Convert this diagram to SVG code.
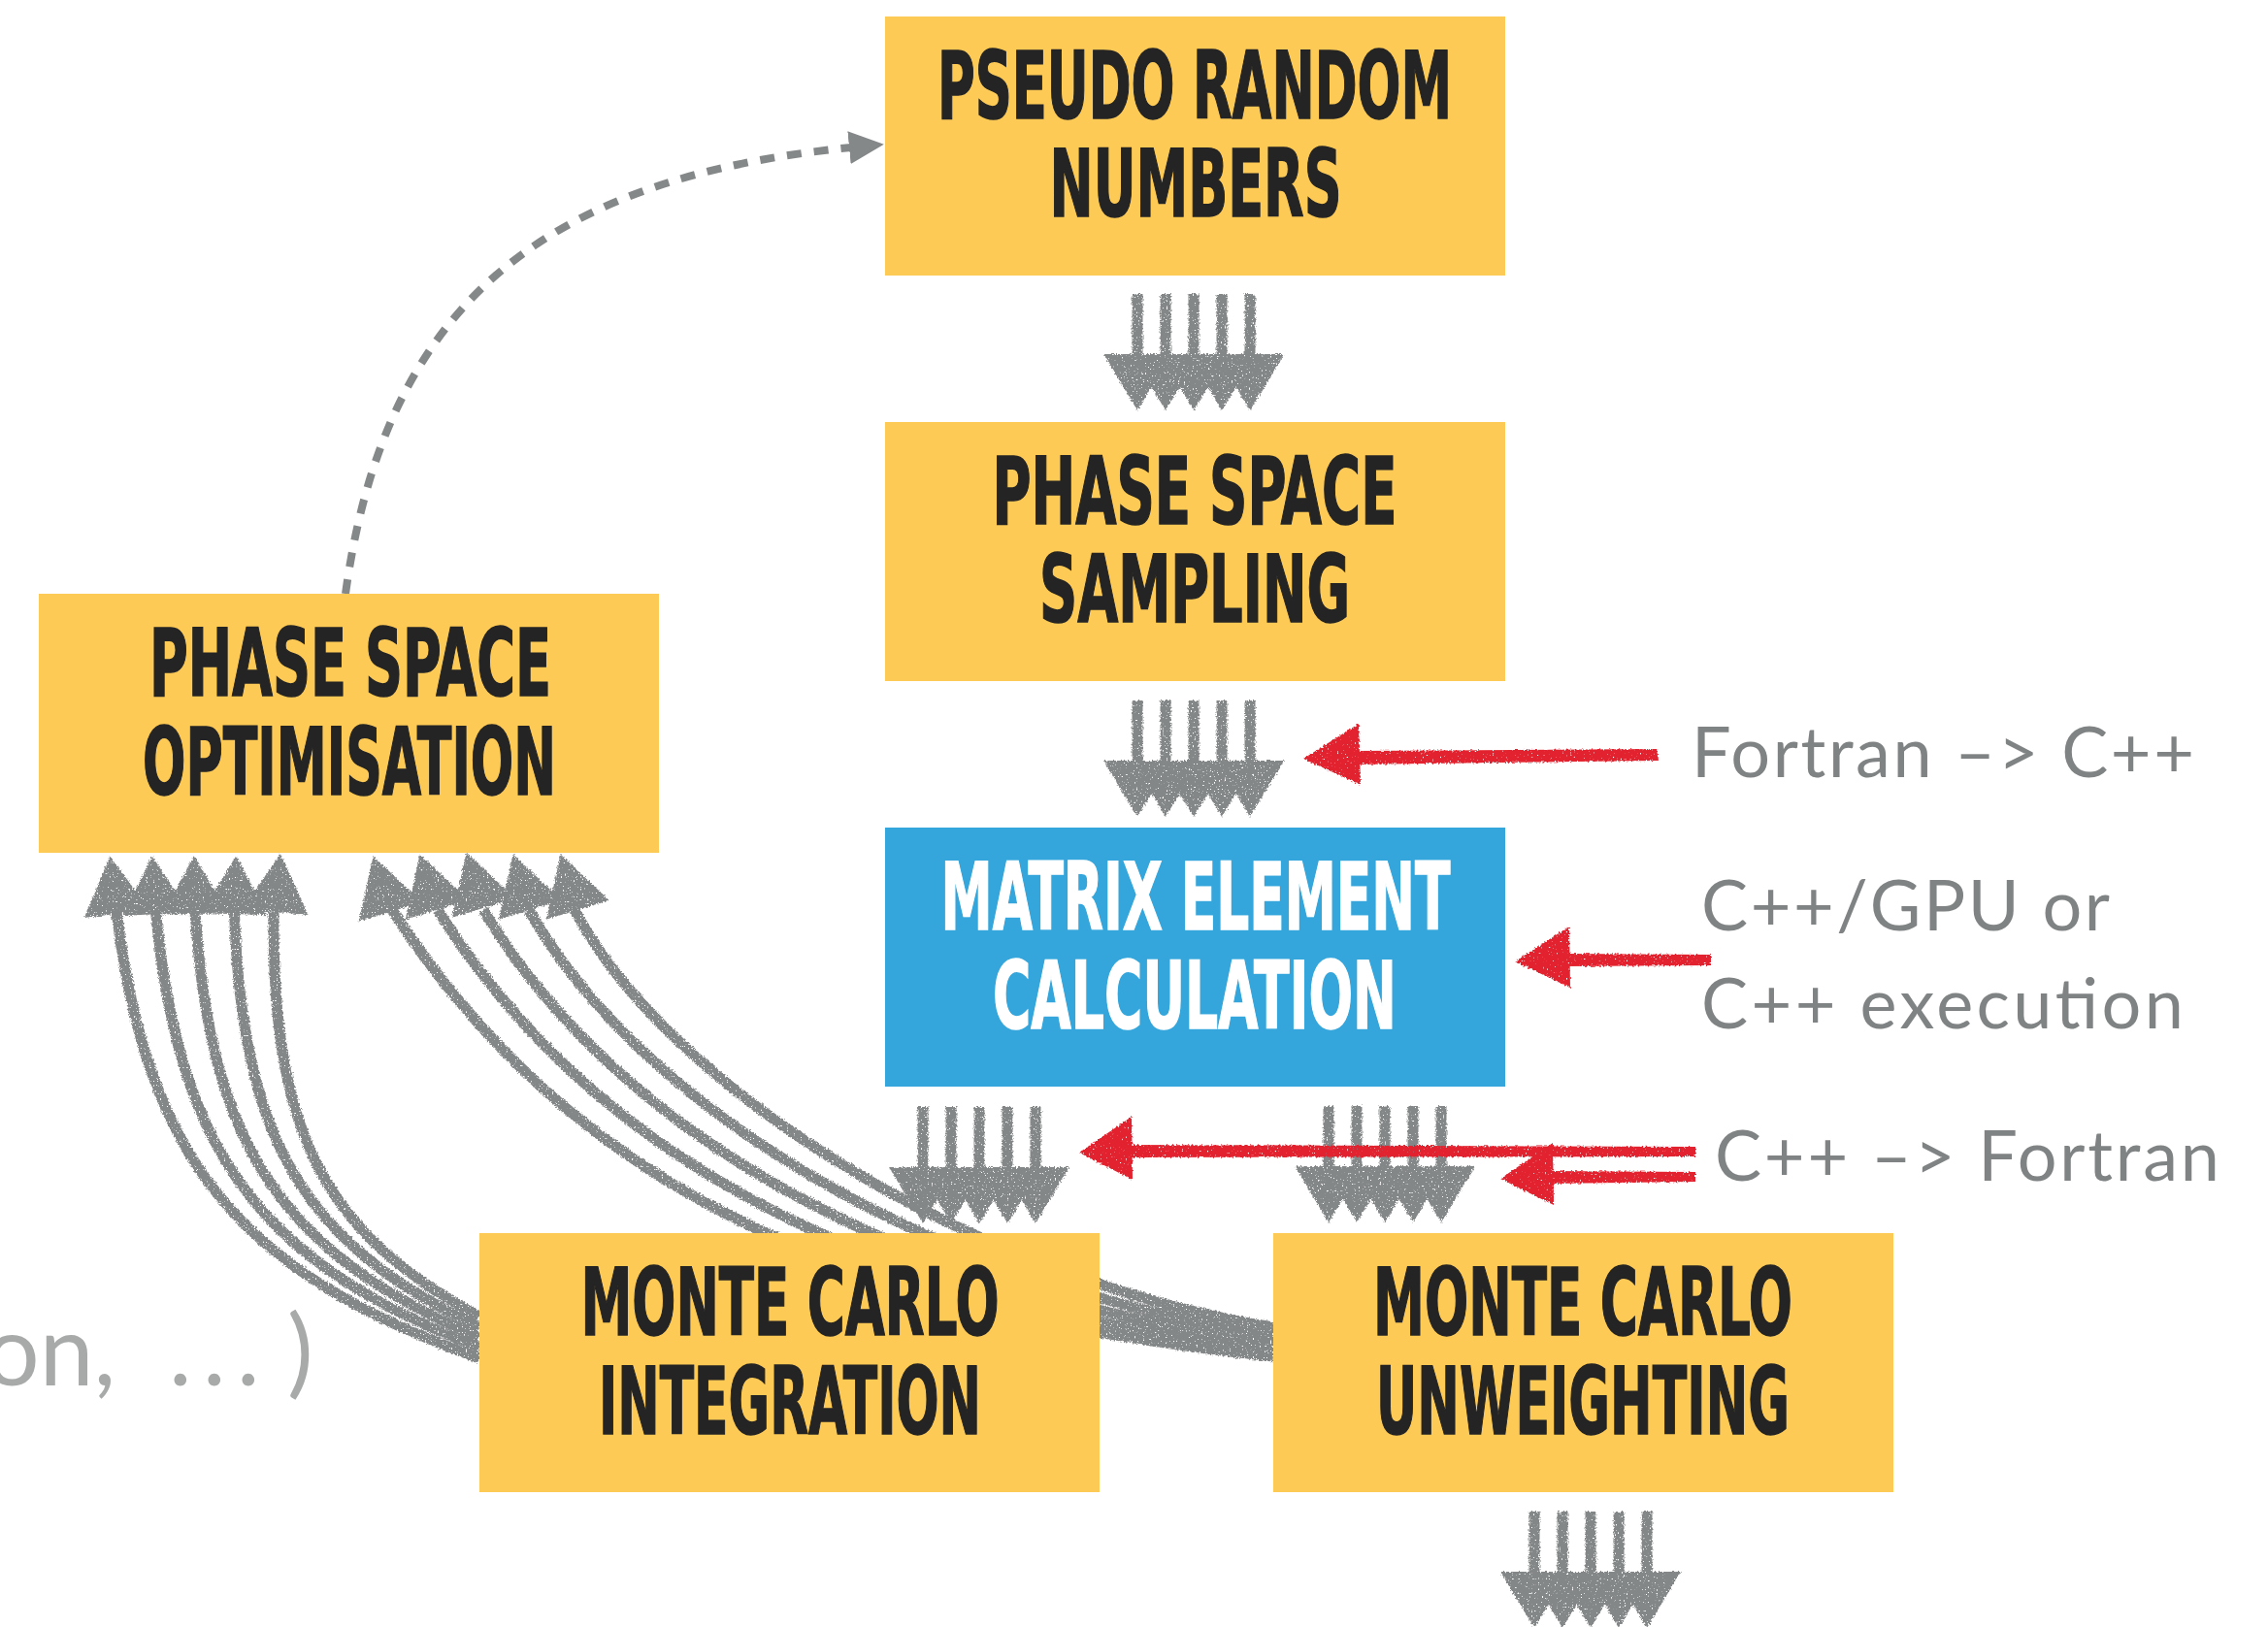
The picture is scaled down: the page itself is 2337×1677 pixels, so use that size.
<svg xmlns="http://www.w3.org/2000/svg" xmlns:xlink="http://www.w3.org/1999/xlink" width="2337" height="1677" viewBox="0 0 2337 1677">
<style>
.box{fill:#FDCA56}
.boxb{fill:#35A6DB}
.bt{font-family:"DejaVu Sans Condensed","Liberation Sans Narrow","Liberation Sans",sans-serif;font-weight:bold;font-size:97px;fill:#242424;stroke:#242424;stroke-width:1.5px;text-anchor:middle}
.wt{fill:#FFFFFF;stroke:#FFFFFF}
.lbl{font-family:Lato,"Open Sans","Liberation Sans",sans-serif;font-size:72px;fill:#808384}
.side{font-family:Lato,"Open Sans","Liberation Sans",sans-serif;font-size:100px;fill:#A8AAAA}
.g{fill:#848788}
.gs{fill:none;stroke:#848788;stroke-width:11}
.r{fill:#E2222D}
</style>
<defs>
<filter id="chalk" x="-5%" y="-10%" width="110%" height="120%">
<feTurbulence type="fractalNoise" baseFrequency="0.55" numOctaves="2" seed="4" result="noise"/>
<feDisplacementMap in="SourceGraphic" in2="noise" scale="5" xChannelSelector="R" yChannelSelector="G" result="d"/>
<feColorMatrix in="noise" type="matrix" values="0 0 0 0 0  0 0 0 0 0  0 0 0 0 0  9 0 0 0 -5.9" result="holes"/>
<feComposite in="d" in2="holes" operator="out"/>
</filter>
<filter id="chalkR" x="-5%" y="-40%" width="110%" height="180%">
<feTurbulence type="fractalNoise" baseFrequency="0.5" numOctaves="2" seed="7" result="noise"/>
<feDisplacementMap in="SourceGraphic" in2="noise" scale="4" xChannelSelector="R" yChannelSelector="G" result="d"/>
<feColorMatrix in="noise" type="matrix" values="0 0 0 0 0  0 0 0 0 0  0 0 0 0 0  9 0 0 0 -6.1" result="holes"/>
<feComposite in="d" in2="holes" operator="out"/>
</filter>
<g id="down5">
<rect class="g" x="-63.5" y="0" width="11" height="66"/>
<rect class="g" x="-34.5" y="0" width="11" height="66"/>
<rect class="g" x="-5.5" y="0" width="11" height="66"/>
<rect class="g" x="23.5" y="0" width="11" height="66"/>
<rect class="g" x="52.5" y="0" width="11" height="66"/>
<polygon class="g" points="-93,62 -23,62 -58,120"/>
<polygon class="g" points="-64,62 6,62 -29,120"/>
<polygon class="g" points="-35,62 35,62 0,120"/>
<polygon class="g" points="-6,62 64,62 29,120"/>
<polygon class="g" points="23,62 93,62 58,120"/>
</g>
<polygon id="uphead" points="-34,4 34,4 0,-56"/>
<marker id="dashHead" markerUnits="userSpaceOnUse" markerWidth="40" markerHeight="40" refX="2" refY="17" orient="auto">
<path d="M0,0 L36,17 L0,34 Z" fill="#858889"/>
</marker>
</defs>

<rect x="0" y="0" width="2337" height="1677" fill="#FFFFFF"/>

<g id="connectors">
<path id="feedback-dashed" d="M356,612 C395.5,321.8 552,183.8 877,152" fill="none" stroke="#858889" stroke-width="8" stroke-dasharray="15 13" marker-end="url(#dashHead)"/>
<g filter="url(#chalk)">
<use xlink:href="#down5" href="#down5" transform="translate(1230,303)"/>
<use xlink:href="#down5" href="#down5" transform="translate(1230,722)"/>
<use xlink:href="#down5" href="#down5" transform="translate(1009,1141)"/>
<use xlink:href="#down5" href="#down5" transform="translate(1427,1140)"/>
<use xlink:href="#down5" href="#down5" transform="translate(1639,1558)"/>
</g>
<g id="mci-to-pso" filter="url(#chalk)">
<path class="gs" d="M120,940 C152,1196 245.5,1311 494,1400"/>
<path class="gs" d="M160.5,940 C184.5,1189 268,1301 494,1389"/>
<path class="gs" d="M201,940 C217,1182 290.3,1291.5 494,1378.5"/>
<path class="gs" d="M241.5,940 C249.5,1175 312.6,1281.8 494,1367.8"/>
<path class="gs" d="M282,940 C280,1168 335,1272 494,1357"/>
<use class="g" xlink:href="#uphead" href="#uphead" transform="translate(120,938) rotate(-7)"/>
<use class="g" xlink:href="#uphead" href="#uphead" transform="translate(160.5,938) rotate(-4)"/>
<use class="g" xlink:href="#uphead" href="#uphead" transform="translate(201,938) rotate(-1)"/>
<use class="g" xlink:href="#uphead" href="#uphead" transform="translate(241.5,938) rotate(2)"/>
<use class="g" xlink:href="#uphead" href="#uphead" transform="translate(284,936) rotate(5)"/>
</g>
<g id="mcu-to-pso" filter="url(#chalk)">
<path class="gs" d="M404,938 C582.9,1213.3 854.6,1351.3 1312,1398"/>
<path class="gs" d="M451,938 C610.2,1191.9 894.7,1343.8 1312,1390.5"/>
<path class="gs" d="M498,938 C637.4,1170.5 934.8,1336.2 1312,1383"/>
<path class="gs" d="M545,938 C664.7,1149 974.9,1328.7 1312,1375.5"/>
<path class="gs" d="M592,938 C691.9,1127.6 1015,1321.1 1312,1368"/>
<use class="g" xlink:href="#uphead" href="#uphead" transform="translate(401,936) rotate(-17)"/>
<use class="g" xlink:href="#uphead" href="#uphead" transform="translate(449,934) rotate(-17)"/>
<use class="g" xlink:href="#uphead" href="#uphead" transform="translate(497,932) rotate(-17)"/>
<use class="g" xlink:href="#uphead" href="#uphead" transform="translate(545,934) rotate(-17)"/>
<use class="g" xlink:href="#uphead" href="#uphead" transform="translate(594,934) rotate(-17)"/>
</g>
</g>

<g id="node-prng">
<rect class="box" x="912" y="17" width="639" height="267"/>
<text class="bt" x="1231" y="122" textLength="530" lengthAdjust="spacingAndGlyphs">PSEUDO RANDOM</text>
<text class="bt" x="1232" y="223" textLength="301" lengthAdjust="spacingAndGlyphs">NUMBERS</text>
</g>
<g id="node-pss">
<rect class="box" x="912" y="435" width="639" height="267"/>
<text class="bt" x="1231" y="540" textLength="417" lengthAdjust="spacingAndGlyphs">PHASE SPACE</text>
<text class="bt" x="1231" y="641" textLength="320" lengthAdjust="spacingAndGlyphs">SAMPLING</text>
</g>
<g id="node-me">
<rect class="boxb" x="912" y="853" width="639" height="267"/>
<text class="bt wt" x="1232" y="958" textLength="525" lengthAdjust="spacingAndGlyphs">MATRIX ELEMENT</text>
<text class="bt wt" x="1231" y="1060" textLength="416" lengthAdjust="spacingAndGlyphs">CALCULATION</text>
</g>
<g id="node-pso">
<rect class="box" x="40" y="612" width="639" height="267"/>
<text class="bt" x="361" y="717" textLength="414" lengthAdjust="spacingAndGlyphs">PHASE SPACE</text>
<text class="bt" x="360" y="819" textLength="426" lengthAdjust="spacingAndGlyphs">OPTIMISATION</text>
</g>
<g id="node-mci">
<rect class="box" x="494" y="1271" width="639" height="267"/>
<text class="bt" x="814" y="1376" textLength="431" lengthAdjust="spacingAndGlyphs">MONTE CARLO</text>
<text class="bt" x="814" y="1478" textLength="394" lengthAdjust="spacingAndGlyphs">INTEGRATION</text>
</g>
<g id="node-mcu">
<rect class="box" x="1312" y="1271" width="639" height="267"/>
<text class="bt" x="1631" y="1376" textLength="432" lengthAdjust="spacingAndGlyphs">MONTE CARLO</text>
<text class="bt" x="1631" y="1478" textLength="426" lengthAdjust="spacingAndGlyphs">UNWEIGHTING</text>
</g>

<g id="annotations">
<g filter="url(#chalkR)">
<polygon class="r" points="1394,774 1707,772 1709,784 1394,788"/>
<polygon class="r" points="1343,782 1400,746 1402,809"/>
</g>
<g filter="url(#chalkR)">
<polygon class="r" points="1612,983 1763,984 1763,995 1612,996"/>
<polygon class="r" points="1561,991 1617,955 1618,1018"/>
</g>
<g filter="url(#chalkR)">
<polygon class="r" points="1160,1180 1747,1182 1747,1192 1160,1193"/>
<polygon class="r" points="1112,1188 1166,1151 1167,1216"/>
</g>
<g filter="url(#chalkR)">
<polygon class="r" points="1595,1207 1747,1208 1747,1218 1595,1220"/>
<polygon class="r" points="1546,1215 1600,1178 1601,1242"/>
</g>
<text class="lbl" x="1743" y="801" textLength="518">Fortran –&gt; C++</text>
<text class="lbl" x="1753" y="959" textLength="421">C++/GPU or</text>
<text class="lbl" x="1753" y="1060" textLength="497">C++ execution</text>
<text class="lbl" x="1767" y="1217" textLength="520">C++ –&gt; Fortran</text>
<text class="side" y="1428"><tspan x="-16">on,</tspan><tspan x="174">.</tspan><tspan x="209">.</tspan><tspan x="244">.</tspan><tspan x="296">)</tspan></text>
</g>
</svg>
